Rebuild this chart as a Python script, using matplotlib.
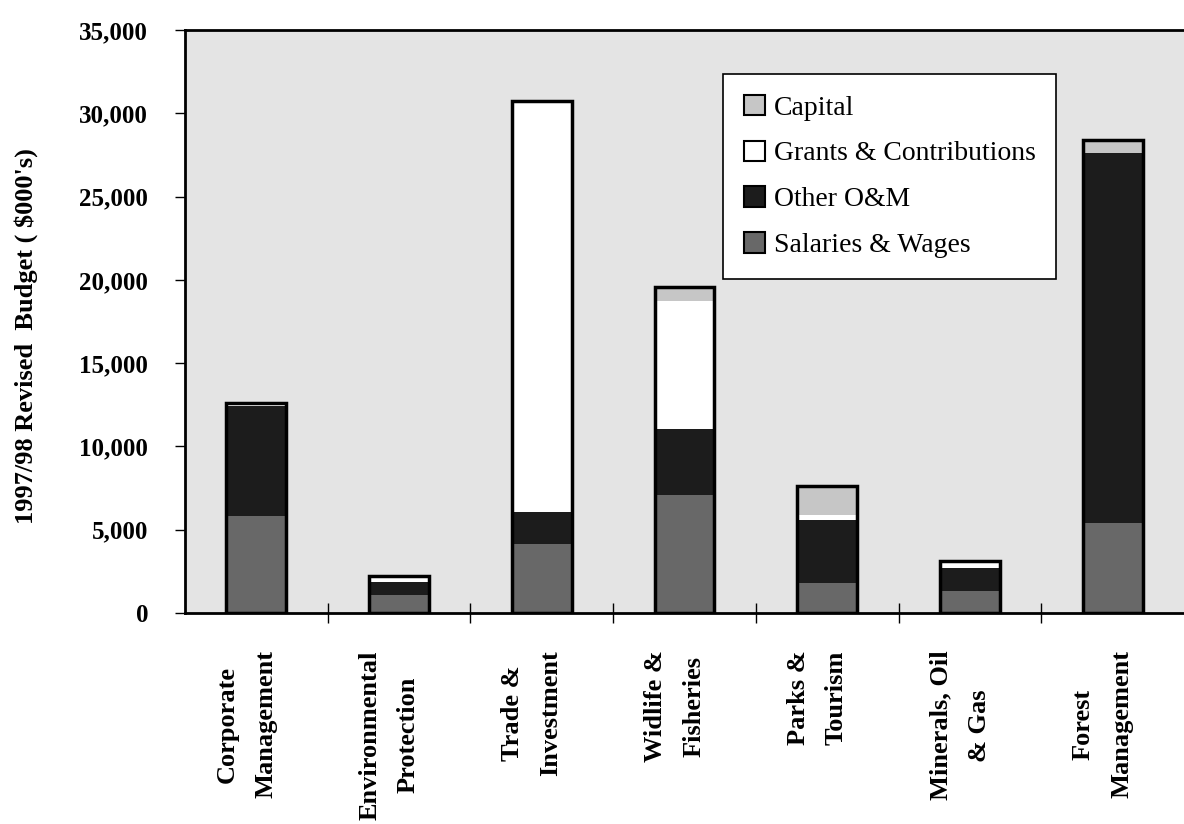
import matplotlib
matplotlib.use("Agg")
import matplotlib.pyplot as plt
import numpy as np

# 1997/98 revised budget by program ($000's)
programs = [
    "Corporate\nManagement",
    "Environmental\nProtection",
    "Trade &\nInvestment",
    "Widlife &\nFisheries",
    "Parks &\nTourism",
    "Minerals, Oil\n& Gas",
    "Forest\nManagement",
]
salaries = [5850, 1100, 4150, 7100, 1800, 1300, 5400]
other_om = [6550, 750, 1900, 3950, 3800, 1400, 22200]
grants = [200, 400, 24700, 7700, 300, 400, 0]
capital = [0, 0, 0, 800, 1700, 0, 800]

series_names = ["Salaries & Wages", "Other O&M", "Grants & Contributions", "Capital"]
series_colors = ["#686868", "#1c1c1c", "#ffffff", "#c6c6c6"]
yticks = [0, 5000, 10000, 15000, 20000, 25000, 30000, 35000]

serif = "Liberation Serif"

fig = plt.figure(figsize=(11.84, 8.24), dpi=100)
ax = fig.add_axes([185 / 1184, 1 - 613 / 824, 999 / 1184, (613 - 30) / 824])

# stippled grey plot area
ax.set_facecolor("#e4e4e4")

x = np.arange(len(programs)) + 0.5
width = 0.42
bottom = np.zeros(len(programs))
handles = []
for name, vals, col in zip(series_names, [salaries, other_om, grants, capital], series_colors):
    vals = np.array(vals, dtype=float)
    b = ax.bar(x, vals, width, bottom=bottom, color=col, edgecolor="none",
               linewidth=0, label=name, zorder=2)
    handles.append(b)
    bottom += vals

# heavy outline round each stacked column
ax.bar(x, bottom, width, fill=False, edgecolor="black", linewidth=2.5, zorder=3)

ax.set_xlim(0, len(programs))
ax.set_ylim(0, 35000)

ax.set_yticks(yticks)
ax.set_yticklabels([f"{v:,}" for v in yticks], fontfamily=serif,
                   fontweight="bold", fontsize=18)
ax.tick_params(axis="y", direction="out", length=7, width=1, pad=19.5)

# category boundaries as major ticks, names as minor tick labels
ax.set_xticks(np.arange(1, len(programs)))
ax.set_xticklabels([])
ax.tick_params(axis="x", which="major", direction="inout", length=14, width=1)
ax.set_xticks(x - 0.07, minor=True)
ax.set_xticklabels(programs, minor=True, rotation=90, fontfamily=serif,
                   fontweight="bold", fontsize=19, ha="center", va="top",
                   multialignment="center", linespacing=1.85)
ax.tick_params(axis="x", which="minor", length=0, pad=27)

for side in ["left", "bottom", "top"]:
    ax.spines[side].set_linewidth(2)
    ax.spines[side].set_color("black")
ax.spines["right"].set_visible(False)

fig.text(26 / 1184, 1 - 336 / 824, "1997/98 Revised  Budget ( $000's)",
         rotation=90, ha="center", va="center", fontfamily=serif,
         fontweight="bold", fontsize=19)

leg = ax.legend(handles[::-1], series_names[::-1], loc="lower left",
                bbox_to_anchor=((723 - 185) / 999, (613 - 279) / 583),
                prop={"family": serif, "size": 20}, frameon=True,
                fancybox=False, edgecolor="black", framealpha=1,
                handlelength=0.75, handleheight=0.75, handletextpad=0.32,
                labelspacing=0.72, borderpad=0.75, borderaxespad=0)
leg.get_frame().set_linewidth(1.2)
for h in leg.legend_handles:
    h.set_edgecolor("black")
    h.set_linewidth(1.5)

fig.savefig("out.png", dpi=100, facecolor="white")
